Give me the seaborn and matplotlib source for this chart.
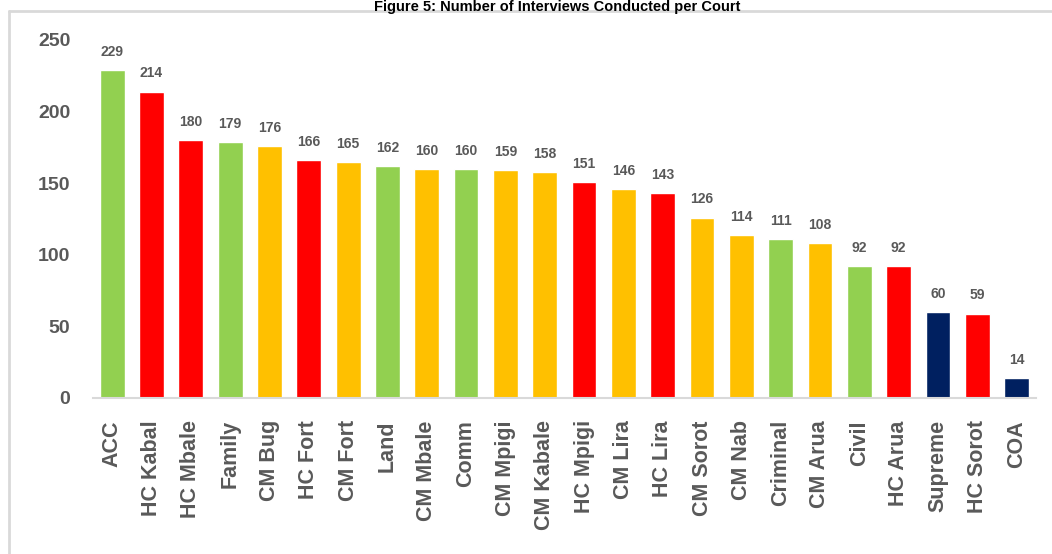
import pandas as pd
import seaborn as sns
import matplotlib
import matplotlib.pyplot as plt
from matplotlib.lines import Line2D
matplotlib.use('Agg')

sns.set_theme(style="white")
plt.rcParams['font.family'] = ['Liberation Sans', 'DejaVu Sans']

courts = ['ACC', 'HC Kabal', 'HC Mbale', 'Family', 'CM Bug', 'HC Fort', 'CM Fort',
          'Land', 'CM Mbale', 'Comm', 'CM Mpigi', 'CM Kabale', 'HC Mpigi', 'CM Lira',
          'HC Lira', 'CM Sorot', 'CM Nab', 'Criminal', 'CM Arua', 'Civil', 'HC Arua',
          'Supreme', 'HC Sorot', 'COA']
interviews = [229, 214, 180, 179, 176, 166, 165, 162, 160, 160, 159, 158, 151, 146,
              143, 126, 114, 111, 108, 92, 92, 60, 59, 14]
court_type = ['Division', 'HC', 'HC', 'Division', 'CM', 'HC', 'CM', 'Division', 'CM',
              'Division', 'CM', 'CM', 'HC', 'CM', 'HC', 'CM', 'CM', 'Division', 'CM',
              'Division', 'HC', 'Appellate', 'HC', 'Appellate']
type_colors = {'Division': '#92D050', 'HC': '#FF0000', 'CM': '#FFC000', 'Appellate': '#002060'}

df = pd.DataFrame({'court': courts, 'n': interviews, 'type': court_type})

fig = plt.figure(figsize=(10.52, 5.54), dpi=100)
ax = fig.add_axes([0.088, 0.2816, 0.897, 0.6462])

sns.barplot(data=df, x='court', y='n', hue='type', palette=type_colors,
            dodge=False, width=0.63, legend=False, saturation=1, ax=ax)

grey = '#595959'
for bars in ax.containers:
    ax.bar_label(bars, padding=8, fontsize=10, fontweight='bold', color=grey)

ax.set_ylim(0, 250)
ax.set_xlim(-0.5, len(courts) - 0.5)
ax.set_yticks(range(0, 251, 50))
ax.set_xlabel('')
ax.set_ylabel('')
ax.tick_params(axis='x', rotation=90, labelsize=15.5, colors=grey, pad=16, length=0)
ax.tick_params(axis='y', labelsize=14, colors=grey, pad=16, length=0)
for lab in ax.get_xticklabels() + ax.get_yticklabels():
    lab.set_fontweight('bold')

for side in ['top', 'right', 'left']:
    ax.spines[side].set_visible(False)
ax.spines['bottom'].set_color('#D9D9D9')
ax.spines['bottom'].set_linewidth(1.5)

# outer frame of the chart box
fig.add_artist(Line2D([8.5 / 1052, 1], [1 - 10.5 / 554] * 2, color='#D9D9D9', lw=2,
                      transform=fig.transFigure, zorder=0))
fig.add_artist(Line2D([8.5 / 1052] * 2, [0, 1 - 10.5 / 554], color='#D9D9D9', lw=2,
                      transform=fig.transFigure, zorder=0))

fig.text(0.53, 1 - 0.5 / 554, 'Figure 5: Number of Interviews Conducted per Court',
         ha='center', va='top', fontsize=10.5, fontweight='bold', color='black', zorder=5)

fig.savefig('out.png', dpi=100)
